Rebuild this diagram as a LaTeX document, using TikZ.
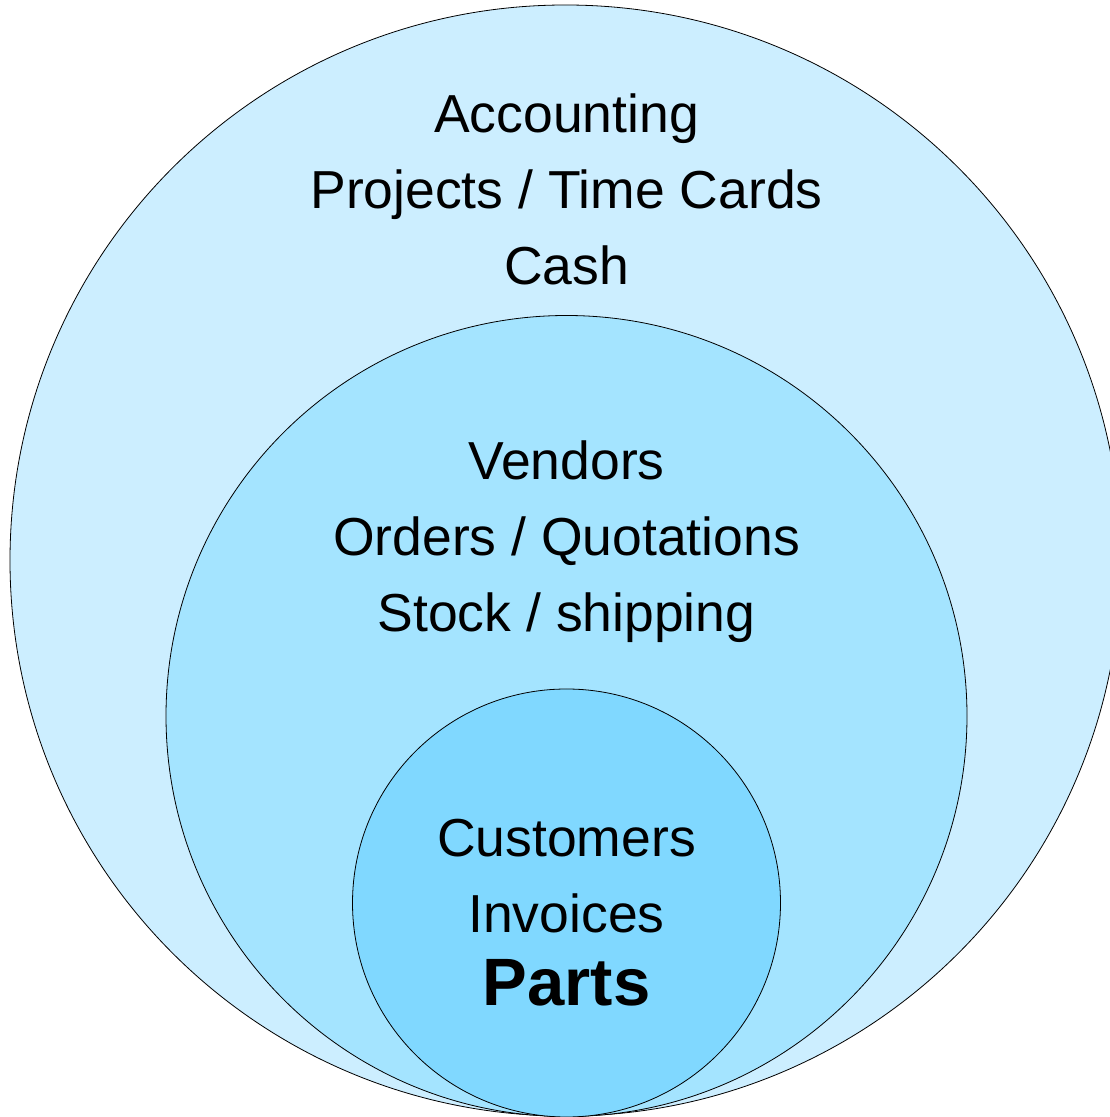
\documentclass[tikz,border=0pt]{standalone}
\usepackage{fontspec}
\setmainfont{Liberation Sans}
\usepackage{xcolor}
\usetikzlibrary{positioning}
\definecolor{ringout}{RGB}{204,238,255}
\definecolor{ringmid}{RGB}{164,228,255}
\definecolor{ringin}{RGB}{128,216,255}
\begin{document}
\begin{tikzpicture}
        [
        x=1pt, y=1pt,
        ring/.style = {circle, draw=black, line width=0.8pt, inner sep=0pt},
        lbl/.style = {anchor=base, font=\fontsize{53.5}{64}\selectfont, inner sep=0pt}
        ]
    \useasboundingbox (0,0) rectangle (1109,1117);
    \node[ring, fill=ringout, minimum size=1111pt] (outer) at (565.5,556.5) {};
    \node[ring, fill=ringmid, minimum size=801pt] (middle) at (566.5,401) {};
    \node[ring, fill=ringin, minimum size=428pt] (inner) at (566.5,214) {};

    \node[lbl] (acc) at (566.5,984) {Accounting};
    \node[lbl] (proj) at ([yshift=-76pt]acc.base) {Projects / Time Cards};
    \node[lbl] (cash) at ([yshift=-76pt]proj.base) {Cash};

    \node[lbl] (vend) at (566.5,637) {Vendors};
    \node[lbl] (ord) at ([yshift=-76pt]vend.base) {Orders / Quotations};
    \node[lbl] (stock) at ([yshift=-76pt]ord.base) {Stock / shipping};

    \node[lbl] (cust) at (566.5,260) {Customers};
    \node[lbl] (inv) at ([yshift=-76pt]cust.base) {Invoices};
    \node[lbl, font=\fontsize{67}{80}\selectfont\bfseries] (parts) at ([yshift=-73pt]inv.base) {Parts};
\end{tikzpicture}
\end{document}
